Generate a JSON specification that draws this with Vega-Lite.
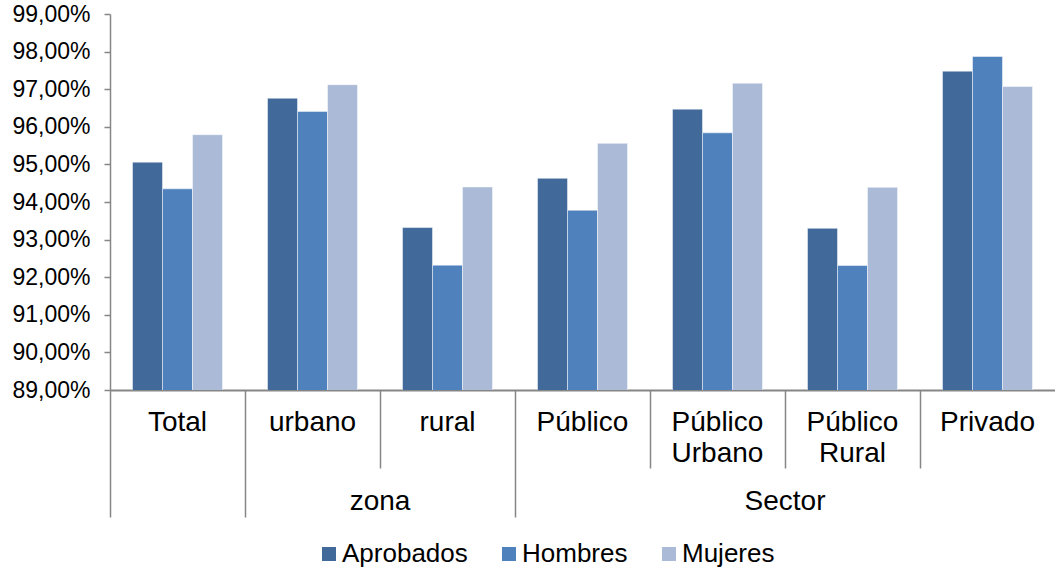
{
  "$schema": "https://vega.github.io/schema/vega-lite/v6.json",
  "width": 945,
  "height": 376,
  "autosize": {"type": "none"},
  "padding": {"left": 110, "top": 14, "right": 0, "bottom": 181},
  "config": {
    "view": {"stroke": null},
    "font": "Liberation Sans",
    "axis": {"labelFont": "Liberation Sans", "labelColor": "#000000", "grid": false, "title": null}
  },
  "data": {
    "values": [
      {"categoria": "Total", "serie": "Aprobados", "valor": 95.06},
      {"categoria": "Total", "serie": "Hombres", "valor": 94.35},
      {"categoria": "Total", "serie": "Mujeres", "valor": 95.79},
      {"categoria": "urbano", "serie": "Aprobados", "valor": 96.76},
      {"categoria": "urbano", "serie": "Hombres", "valor": 96.41},
      {"categoria": "urbano", "serie": "Mujeres", "valor": 97.12},
      {"categoria": "rural", "serie": "Aprobados", "valor": 93.32},
      {"categoria": "rural", "serie": "Hombres", "valor": 92.32},
      {"categoria": "rural", "serie": "Mujeres", "valor": 94.4},
      {"categoria": "Público", "serie": "Aprobados", "valor": 94.63},
      {"categoria": "Público", "serie": "Hombres", "valor": 93.78},
      {"categoria": "Público", "serie": "Mujeres", "valor": 95.56},
      {"categoria": "Público Urbano", "serie": "Aprobados", "valor": 96.47},
      {"categoria": "Público Urbano", "serie": "Hombres", "valor": 95.84},
      {"categoria": "Público Urbano", "serie": "Mujeres", "valor": 97.16},
      {"categoria": "Público Rural", "serie": "Aprobados", "valor": 93.3},
      {"categoria": "Público Rural", "serie": "Hombres", "valor": 92.31},
      {"categoria": "Público Rural", "serie": "Mujeres", "valor": 94.39},
      {"categoria": "Privado", "serie": "Aprobados", "valor": 97.48},
      {"categoria": "Privado", "serie": "Hombres", "valor": 97.87},
      {"categoria": "Privado", "serie": "Mujeres", "valor": 97.07}
    ]
  },
  "resolve": {"axis": {"x": "independent"}},
  "layer": [
    {
      "mark": {"type": "bar", "stroke": "#ffffff", "strokeWidth": 0.8, "strokeOpacity": 0.6, "clip": true},
      "encoding": {
        "x": {
          "field": "categoria", "type": "nominal",
          "sort": ["Total", "urbano", "rural", "Público", "Público Urbano", "Público Rural", "Privado"],
          "scale": {"paddingInner": 0, "paddingOuter": 0},
          "axis": {
            "orient": "bottom",
            "labelAngle": 0, "ticks": false, "domain": true, "domainColor": "#868686", "domainWidth": 2,
            "labelFontSize": 28, "labelPadding": 18, "labelLineHeight": 31,
            "labelExpr": "datum.label == 'Público Urbano' ? ['Público', 'Urbano'] : datum.label == 'Público Rural' ? ['Público', 'Rural'] : datum.label"
          }
        },
        "xOffset": {"field": "serie", "type": "nominal", "scale": {"paddingInner": 0, "paddingOuter": 0.75}},
        "y": {
          "field": "valor", "type": "quantitative",
          "scale": {"domain": [89, 99], "zero": false, "nice": false},
          "axis": {
            "values": [89, 90, 91, 92, 93, 94, 95, 96, 97, 98, 99],
            "labelExpr": "replace(format(datum.value, '.2f'), '.', ',') + '%'",
            "labelFontSize": 23, "labelPadding": 14, "tickSize": 6, "tickColor": "#868686",
            "domainColor": "#868686", "domainWidth": 1.5, "tickWidth": 1.5
          }
        },
        "color": {
          "field": "serie", "type": "nominal",
          "scale": {"domain": ["Aprobados", "Hombres", "Mujeres"], "range": ["#416A9B", "#4F81BD", "#AABAD7"]},
          "legend": {
            "orient": "none", "legendX": 206, "legendY": 527, "direction": "horizontal", "title": null,
            "symbolType": "square", "symbolSize": 196, "symbolStrokeWidth": 0, "labelFontSize": 26,
            "labelFont": "Liberation Sans", "labelColor": "#000000", "labelOffset": 0, "columnPadding": 28
          }
        }
      }
    },
    {
      "mark": {"type": "point", "opacity": 0},
      "encoding": {
        "x": {
          "field": "categoria", "type": "nominal",
          "sort": ["Total", "urbano", "rural", "Público", "Público Urbano", "Público Rural", "Privado"],
          "axis": {
            "orient": "bottom",
            "labels": false, "domain": false, "ticks": true, "bandPosition": 0,
            "tickColor": "#868686", "tickWidth": 1.5,
            "tickSize": {"condition": {"test": "indexof(['Total', 'urbano', 'Público'], datum.value) >= 0", "value": 127}, "value": 78}
          }
        }
      }
    },
    {
      "mark": {"type": "point", "opacity": 0},
      "encoding": {
        "x": {
          "field": "categoria", "type": "nominal",
          "sort": ["Total", "urbano", "rural", "Público", "Público Urbano", "Público Rural", "Privado"],
          "axis": {
            "orient": "bottom",
            "labels": true, "domain": false, "ticks": false, "labelAngle": 0, "labelOffset": -67.5,
            "labelOverlap": false, "labelBound": false, "labelFontSize": 28, "labelPadding": 97,
            "labelExpr": "datum.value == 'rural' ? 'zona' : datum.value == 'Público Rural' ? 'Sector' : ''"
          }
        }
      }
    }
  ]
}
